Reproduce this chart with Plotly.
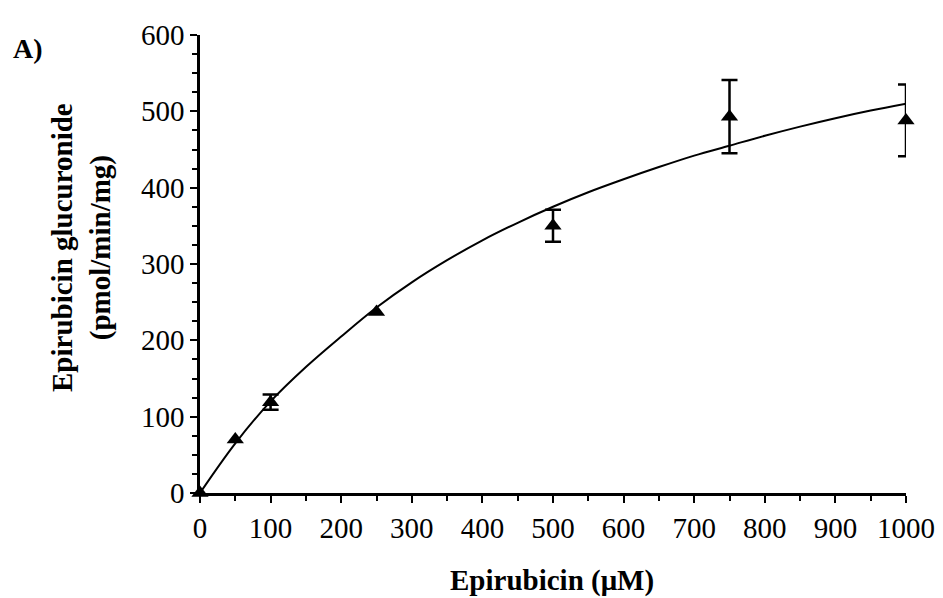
import plotly.graph_objects as go

# Data
conc = [0, 50, 100, 250, 500, 750, 1000]
rate = [0, 70, 119, 237, 350, 493, 488]
err = [0, 0, 10, 0, 21, 48, 47]

fit_x = [0, 50, 100, 150, 200, 250, 300, 350, 400, 450, 500, 550, 600,
         650, 700, 750, 800, 850, 900, 950, 1000]
fit_y = [0, 65, 120, 165, 205, 243, 276, 305, 331, 354, 375, 394, 411,
         427, 442, 455, 468, 480, 491, 501, 510]

x_ticks = [0, 100, 200, 300, 400, 500, 600, 700, 800, 900, 1000]
y_ticks = [0, 100, 200, 300, 400, 500, 600]

FONT = "Liberation Serif"

# plot-area pixel geometry (page has an 8px body offset)
PX0, PX1, PY0, PY1 = 200, 906, 493, 35


def px(x):
    return (x - PX0) / (PX1 - PX0)


def py(y):
    return (PY0 - y) / (PY0 - PY1)


# only points that have a measured spread get an error bar
eb = [(c, r, e) for c, r, e in zip(conc, rate, err) if e > 0]

fig = go.Figure()
fig.add_trace(go.Scatter(x=fit_x, y=fit_y, mode="lines",
                         line=dict(color="black", width=2, shape="spline"),
                         hoverinfo="skip", cliponaxis=False))
fig.add_trace(go.Scatter(x=[t[0] for t in eb], y=[t[1] for t in eb], mode="markers",
                         marker=dict(size=1, color="rgba(0,0,0,0)"),
                         error_y=dict(type="data", array=[t[2] for t in eb], color="black",
                                      thickness=2.5, width=8, visible=True),
                         hoverinfo="skip", cliponaxis=False))
fig.add_trace(go.Scatter(x=conc, y=rate, mode="markers",
                         marker=dict(symbol="triangle-up", size=15, color="black"),
                         cliponaxis=False))

fig.update_layout(
    width=943, height=598,
    margin=dict(l=PX0 - 8, r=943 + 8 - PX1, t=PY1 - 8, b=598 + 8 - PY0),
    paper_bgcolor="white", plot_bgcolor="white",
    showlegend=False,
    font=dict(family=FONT, color="black", size=28),
    xaxis=dict(range=[0, 1000], tickvals=x_ticks, showgrid=False, zeroline=False,
               showline=True, linecolor="black", linewidth=2.5,
               ticks="outside", ticklen=7, tickwidth=2, tickcolor="black",
               minor=dict(dtick=50, ticks="outside", ticklen=5, tickwidth=2, tickcolor="black"),
               tickfont=dict(family=FONT, size=29, color="black")),
    yaxis=dict(range=[0, 600], tickvals=y_ticks, showgrid=False, zeroline=False,
               showline=True, linecolor="black", linewidth=2.5,
               ticks="outside", ticklen=7, tickwidth=2, tickcolor="black",
               minor=dict(dtick=25, ticks="outside", ticklen=5, tickwidth=2, tickcolor="black"),
               tickfont=dict(family=FONT, size=29, color="black")),
    annotations=[
        dict(text="<b>A)</b>", xref="paper", yref="paper", x=px(28), y=py(48),
             showarrow=False, xanchor="center", yanchor="middle",
             font=dict(family=FONT, size=28, color="black")),
        dict(text="<b>Epirubicin (μM)</b>", xref="paper", yref="paper", x=px(552),
             y=py(580), showarrow=False, xanchor="center", yanchor="middle",
             font=dict(family=FONT, size=29, color="black")),
        dict(text="<b>Epirubicin glucuronide<br>(pmol/min/mg)</b>", xref="paper", yref="paper",
             x=px(81), y=py(248), textangle=-90, showarrow=False,
             xanchor="center", yanchor="middle",
             font=dict(family=FONT, size=29, color="black")),
    ],
)

fig.write_html("out.html")
